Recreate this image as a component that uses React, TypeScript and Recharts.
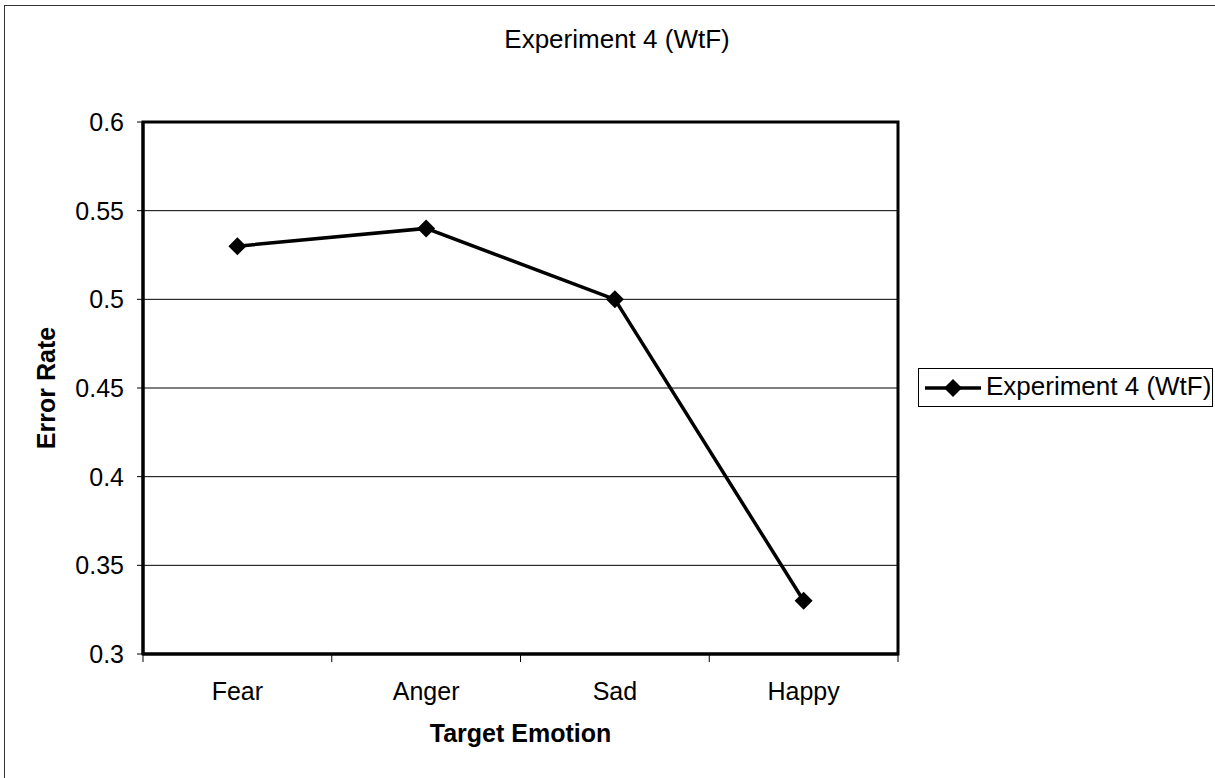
import React from 'react';
import { LineChart, Line, XAxis, YAxis, CartesianGrid, Legend, ReferenceArea } from 'recharts';

const emotions = ['Fear', 'Anger', 'Sad', 'Happy'];
const errorRates = [0.53, 0.54, 0.5, 0.33];
const yTicks = [0.3, 0.35, 0.4, 0.45, 0.5, 0.55, 0.6];

const seriesName = 'Experiment 4 (WtF)';
const chartTitle = 'Experiment 4 (WtF)';

const FONT = "Arial, 'Liberation Sans', sans-serif";

const data = emotions.map((emotion, i) => ({ emotion, rate: errorRates[i] }));

function Diamond(props: any) {
  const { cx, cy, index } = props;
  if (cx == null || cy == null) return null;
  const r = 9;
  return (
    <polygon
      key={`dot-${index}`}
      points={`${cx},${cy - r} ${cx + r},${cy} ${cx},${cy + r} ${cx - r},${cy}`}
      fill="#000"
    />
  );
}

// Excel-style category axis: tick marks sit on the band edges, labels in the middle
function CategoryTick(props: any) {
  const { x, y, payload, index, visibleTicksCount } = props;
  const half = payload.offset ?? 94;
  const last = index === visibleTicksCount - 1;
  return (
    <g>
      <line x1={x - half} y1={y} x2={x - half} y2={y + 8} stroke="#000" strokeWidth={1} />
      {last && <line x1={x + half} y1={y} x2={x + half} y2={y + 8} stroke="#000" strokeWidth={1} />}
      <text x={x} y={y + 46} textAnchor="middle" fontSize={25} fontFamily={FONT} fill="#000">
        {payload.value}
      </text>
    </g>
  );
}

function LegendBox() {
  return (
    <div
      style={{
        width: 295,
        height: 39,
        boxSizing: 'border-box',
        border: '1.5px solid #000',
        background: '#fff',
        display: 'flex',
        alignItems: 'center',
        paddingLeft: 6,
        fontFamily: FONT,
        fontSize: 26,
        color: '#000',
        whiteSpace: 'nowrap',
      }}
    >
      <svg width={58} height={20} style={{ display: 'block', flex: 'none' }}>
        <line x1={0} y1={10} x2={56} y2={10} stroke="#000" strokeWidth={3.5} />
        <polygon points="28,1 37,10 28,19 19,10" fill="#000" />
      </svg>
      <span style={{ marginLeft: 3, lineHeight: '26px', position: 'relative', top: -2 }}>{seriesName}</span>
    </div>
  );
}

export default function App() {
  return (
    <div
      style={{
        position: 'absolute',
        left: 0,
        top: 0,
        width: 1215,
        height: 778,
        overflow: 'hidden',
        background: '#fff',
        fontFamily: FONT,
      }}
    >
      <div
        style={{
          position: 'absolute',
          left: 4,
          top: 5,
          width: 1400,
          height: 1000,
          border: '1.5px solid #333',
        }}
      />
      <div
        style={{
          position: 'absolute',
          left: 417,
          top: 24,
          width: 400,
          height: 30,
          lineHeight: '30px',
          textAlign: 'center',
          fontSize: 26,
          color: '#000',
        }}
      >
        {chartTitle}
      </div>
      <div style={{ position: 'absolute', left: 0, top: 0 }}>
        <LineChart
          width={1215}
          height={778}
          data={data}
          margin={{ top: 122, right: 317, bottom: 64, left: 33 }}
        >
          <CartesianGrid vertical={false} horizontal stroke="#000" strokeWidth={1} />
          <XAxis
            dataKey="emotion"
            type="category"
            scale="band"
            height={60}
            tickSize={0}
            tickMargin={0}
            tickLine={false}
            axisLine={{ stroke: '#000', strokeWidth: 3 }}
            tick={<CategoryTick />}
            label={{
              value: 'Target Emotion',
              position: 'bottom',
              offset: 10,
              style: { fontSize: 25, fontWeight: 'bold', fill: '#000', fontFamily: FONT },
            }}
          />
          <YAxis
            type="number"
            domain={[0.3, 0.6]}
            ticks={yTicks}
            width={110}
            tickSize={6}
            tickMargin={13}
            tickLine={{ stroke: '#000', strokeWidth: 1 }}
            axisLine={{ stroke: '#000', strokeWidth: 3 }}
            tick={{ fontSize: 25, fill: '#000', fontFamily: FONT }}
            tickFormatter={(v: number) => String(v)}
            label={{
              value: 'Error Rate',
              angle: -90,
              position: 'insideLeft',
              offset: 13,
              style: { textAnchor: 'middle', fontSize: 25, fontWeight: 'bold', fill: '#000', fontFamily: FONT },
            }}
          />
          <ReferenceArea
            y1={0.3}
            y2={0.6}
            fill="none"
            stroke="#000"
            strokeWidth={3}
            ifOverflow="visible"
          />
          <Legend
            layout="vertical"
            align="center"
            verticalAlign="middle"
            wrapperStyle={{ left: 918, top: 368, width: 'auto' }}
            content={() => <LegendBox />}
          />
          <Line
            type="linear"
            dataKey="rate"
            name={seriesName}
            stroke="#000"
            strokeWidth={3.5}
            dot={(p: any) => <Diamond {...p} />}
            activeDot={false}
            isAnimationActive={false}
          />
        </LineChart>
      </div>
    </div>
  );
}
